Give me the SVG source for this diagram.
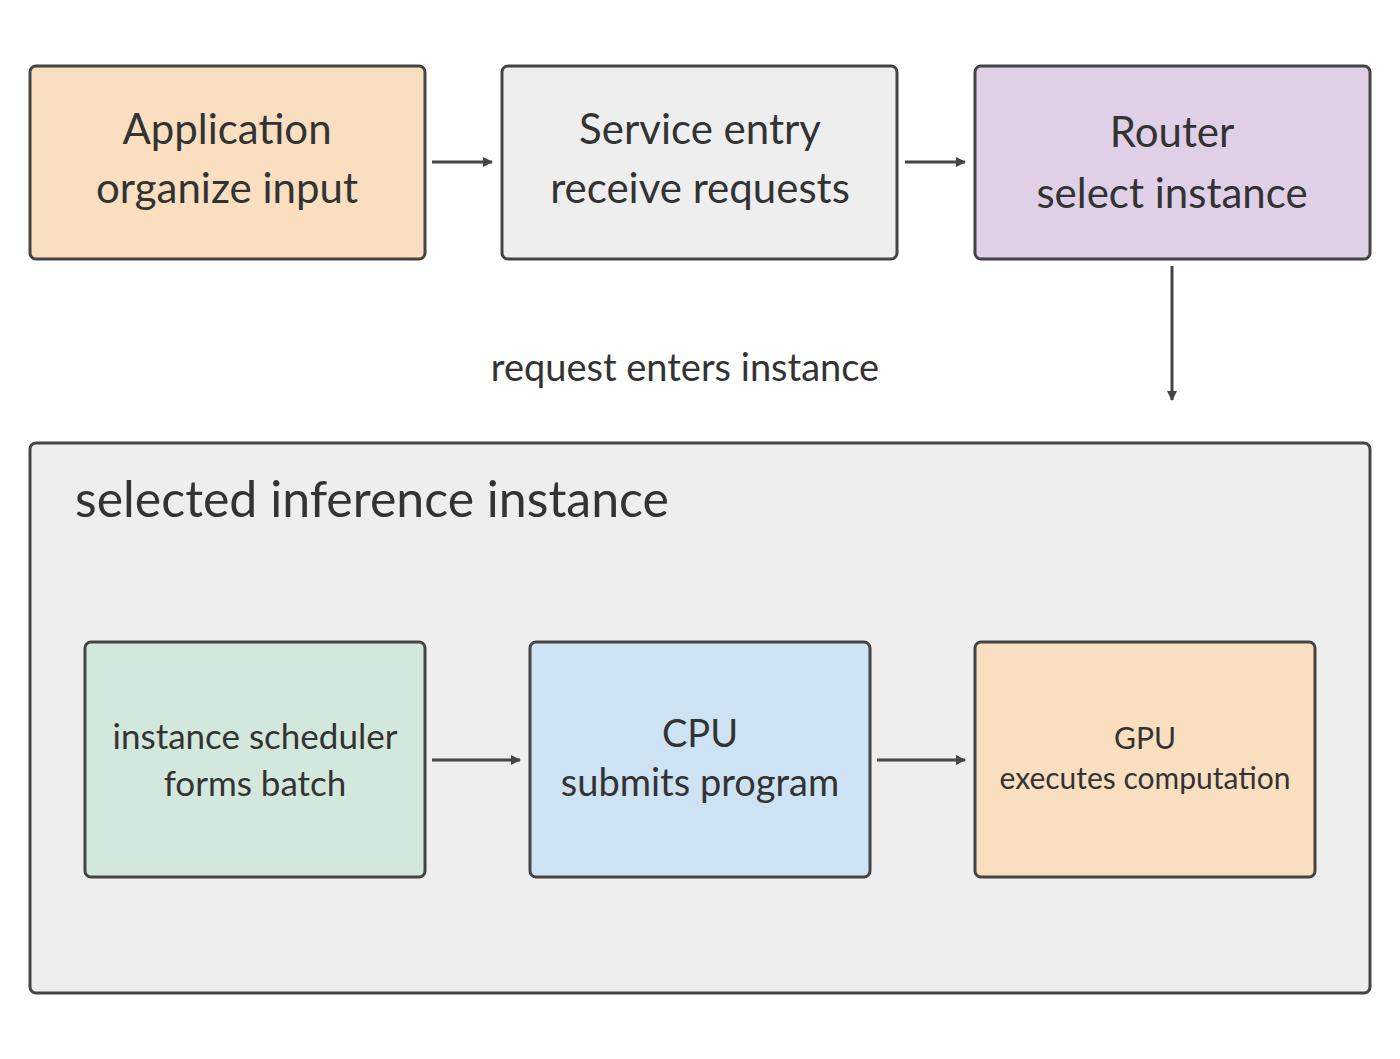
<svg xmlns="http://www.w3.org/2000/svg" width="1400" height="1059" viewBox="0 0 1400 1059">
<defs>
<marker id="ah" markerWidth="10" markerHeight="10" refX="9" refY="5" orient="auto" markerUnits="userSpaceOnUse" viewBox="0 0 10 10"><path d="M0,0 L10,5 L0,10 z" fill="#444"/></marker>
<style>
.b{stroke:#444;stroke-width:3}
.t{font-family:Lato,"Noto Sans",sans-serif;fill:#333;text-anchor:middle}
.c{stroke:#444;stroke-width:3;fill:none;marker-end:url(#ah)}
</style>
</defs>
<rect width="1400" height="1059" fill="#fff"/>
<g id="app"><rect class="b" x="30" y="66" width="395" height="193" rx="6" fill="#f9dfc0"/>
<text class="t" font-size="42"><tspan x="227" y="144">Application</tspan><tspan x="227" y="203">organize input</tspan></text></g>
<g id="entry"><rect class="b" x="502" y="66" width="395" height="193" rx="6" fill="#eeeeee"/>
<text class="t" font-size="42"><tspan x="700" y="144">Service entry</tspan><tspan x="700" y="203">receive requests</tspan></text></g>
<g id="router"><rect class="b" x="975" y="66" width="395" height="193" rx="6" fill="#dfd0e8"/>
<text class="t" font-size="42"><tspan x="1172" y="147">Router</tspan><tspan x="1172" y="208">select instance</tspan></text></g>
<text class="t" font-size="38" x="685" y="381">request enters instance</text>
<g id="instance"><rect class="b" x="30" y="443" width="1340" height="550" rx="6" fill="#eeeeee"/>
<text class="t" font-size="50" x="75" y="517" text-anchor="start" style="text-anchor:start">selected inference instance</text></g>
<g id="sched"><rect class="b" x="85" y="642" width="340" height="235" rx="6" fill="#d3e8dc"/>
<text class="t" font-size="35"><tspan x="255" y="749">instance scheduler</tspan><tspan x="255" y="796">forms batch</tspan></text></g>
<g id="cpu"><rect class="b" x="530" y="642" width="340" height="235" rx="6" fill="#cde3f3"/>
<text class="t" font-size="38"><tspan x="700" y="747">CPU</tspan><tspan x="700" y="796">submits program</tspan></text></g>
<g id="gpu"><rect class="b" x="975" y="642" width="340" height="235" rx="6" fill="#f9dfc0"/>
<text class="t" font-size="30"><tspan x="1145" y="749">GPU</tspan><tspan x="1145" y="789">executes computation</tspan></text></g>
<g id="connectors">
<line class="c" x1="432" y1="162" x2="492" y2="162"/>
<line class="c" x1="905" y1="162" x2="965" y2="162"/>
<line class="c" x1="1172" y1="266" x2="1172" y2="400"/>
<line class="c" x1="432" y1="760" x2="520" y2="760"/>
<line class="c" x1="877" y1="760" x2="965" y2="760"/>
</g>
</svg>
